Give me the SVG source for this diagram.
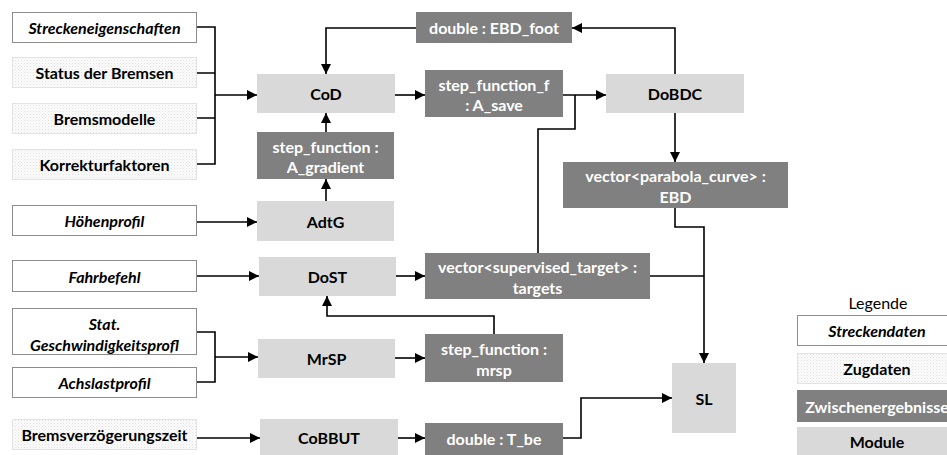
<svg xmlns="http://www.w3.org/2000/svg" width="947" height="455" viewBox="0 0 947 455">
<defs>
<pattern id="dots" width="3" height="3" patternUnits="userSpaceOnUse">
<rect width="3" height="3" fill="#fbfbfb"/>
<rect x="0" y="0" width="1" height="1" fill="#e2e2e2"/>
<rect x="1.5" y="1.5" width="1" height="1" fill="#ececec"/>
</pattern>
<marker id="ah" viewBox="0 0 10 10" refX="10" refY="5" markerWidth="10" markerHeight="10" markerUnits="userSpaceOnUse" orient="auto">
<path d="M0,0 L10,5 L0,10 Z" fill="#000"/>
</marker>
</defs>
<style>
text{font-family:Lato,"Open Sans","Liberation Sans",sans-serif;font-weight:bold;font-size:16px;text-anchor:middle;dominant-baseline:central}
.sd rect{fill:#fff;stroke:#8c8c8c;stroke-width:1}
.sd text{font-style:italic;fill:#000}
.zd rect{fill:url(#dots);stroke:#e3e3e3;stroke-width:1}
.zd text{fill:#000}
.mo rect{fill:#d9d9d9}
.mo text{fill:#000}
.zw rect{fill:#808080}
.zw text{fill:#fff}
.c path{fill:none;stroke:#000;stroke-width:1.6}
.lg{font-weight:normal;fill:#000}
</style>

<g id="streckeneigenschaften" class="sd"><rect x="12.5" y="12.5" width="184" height="30"/><text x="104.5" y="27.5">Streckeneigenschaften</text></g>
<g id="status-bremsen" class="zd"><rect x="12.5" y="57.5" width="184" height="30"/><text x="104.5" y="72.5">Status der Bremsen</text></g>
<g id="bremsmodelle" class="zd"><rect x="12.5" y="103.5" width="184" height="30"/><text x="104.5" y="118.5">Bremsmodelle</text></g>
<g id="korrekturfaktoren" class="zd"><rect x="12.5" y="149.5" width="184" height="30"/><text x="104.5" y="164.5">Korrekturfaktoren</text></g>
<g id="hoehenprofil" class="sd"><rect x="12.5" y="205.5" width="184" height="30"/><text x="104.5" y="220.5">Höhenprofil</text></g>
<g id="fahrbefehl" class="sd"><rect x="12.5" y="260.5" width="184" height="31"/><text x="104.5" y="276">Fahrbefehl</text></g>
<g id="stat-geschw" class="sd"><rect x="12.5" y="308.5" width="184" height="46"/><text x="104.5" y="323">Stat.</text><text x="104.5" y="344">Geschwindigkeitsprofl</text></g>
<g id="achslastprofil" class="sd"><rect x="12.5" y="367.5" width="184" height="30"/><text x="104.5" y="382.5">Achslastprofil</text></g>
<g id="bremsverzoegerungszeit" class="zd"><rect x="12.5" y="419.5" width="184" height="30"/><text x="104.5" y="434.5">Bremsverzögerungszeit</text></g>

<g id="CoD" class="mo"><rect x="257" y="74" width="138" height="39"/><text x="326" y="93.5">CoD</text></g>
<g id="A_gradient" class="zw"><rect x="257" y="132" width="137" height="47"/><text x="325.5" y="146">step_function :</text><text x="325.5" y="166">A_gradient</text></g>
<g id="AdtG" class="mo"><rect x="257" y="201" width="137" height="40"/><text x="325.5" y="221">AdtG</text></g>
<g id="DoST" class="mo"><rect x="259" y="257" width="137" height="39"/><text x="327.5" y="276.5">DoST</text></g>
<g id="MrSP" class="mo"><rect x="258" y="339" width="137" height="39"/><text x="326.5" y="358.5">MrSP</text></g>
<g id="CoBBUT" class="mo"><rect x="260" y="419" width="138" height="36"/><text x="329" y="437.5">CoBBUT</text></g>

<g id="EBD_foot" class="zw"><rect x="416" y="12" width="156" height="31"/><text x="494" y="27.5">double : EBD_foot</text></g>
<g id="A_save" class="zw"><rect x="425" y="70" width="138" height="47"/><text x="494" y="84">step_function_f</text><text x="494" y="104">: A_save</text></g>
<g id="targets" class="zw"><rect x="425" y="253" width="225" height="46"/><text x="537.5" y="266">vector&lt;supervised_target&gt; :</text><text x="537.5" y="287">targets</text></g>
<g id="mrsp" class="zw"><rect x="425" y="334" width="138" height="48"/><text x="494" y="348">step_function :</text><text x="494" y="369">mrsp</text></g>
<g id="T_be" class="zw"><rect x="425" y="423" width="138" height="32"/><text x="494" y="438.5">double : T_be</text></g>
<g id="DoBDC" class="mo"><rect x="606" y="74" width="138" height="39"/><text x="675" y="93.5">DoBDC</text></g>
<g id="EBD" class="zw"><rect x="563" y="162" width="225" height="46"/><text x="675.5" y="175">vector&lt;parabola_curve&gt; :</text><text x="675.5" y="196">EBD</text></g>
<g id="SL" class="mo"><rect x="672" y="363" width="64" height="70"/><text x="704" y="398">SL</text></g>

<g id="legende">
<text class="lg" x="878" y="302">Legende</text>
<g class="sd"><rect x="797.5" y="315.5" width="160" height="30"/><text x="877" y="330.5">Streckendaten</text></g>
<g class="zd"><rect x="797.5" y="353.5" width="160" height="30"/><text x="877" y="368.5">Zugdaten</text></g>
<g class="zw"><rect x="797" y="390" width="160" height="32"/><text x="877" y="406">Zwischenergebnisse</text></g>
<g class="mo"><rect x="797" y="427" width="160" height="28"/><text x="877" y="441">Module</text></g>
</g>

<g id="connectors" class="c">
<path d="M197,27 H215 V164 H197 M197,73 H215 M197,118 H215"/>
<path d="M215,95 H257" marker-end="url(#ah)"/>
<path d="M197,222 H257" marker-end="url(#ah)"/>
<path d="M197,276 H259" marker-end="url(#ah)"/>
<path d="M197,332 H215 V382 H197"/>
<path d="M215,357 H258" marker-end="url(#ah)"/>
<path d="M197,438 H260" marker-end="url(#ah)"/>
<path d="M326,132 V113" marker-end="url(#ah)"/>
<path d="M326,201 V179" marker-end="url(#ah)"/>
<path d="M395,95 H425" marker-end="url(#ah)"/>
<path d="M563,95 H606" marker-end="url(#ah)"/>
<path d="M538,253 V129 H575 V95"/>
<path d="M675,74 V28 H572" marker-end="url(#ah)"/>
<path d="M416,28 H326 V74" marker-end="url(#ah)"/>
<path d="M675,113 V162" marker-end="url(#ah)"/>
<path d="M675,208 V227 H704 V363" marker-end="url(#ah)"/>
<path d="M650,276 H704"/>
<path d="M563,438 H581 V398 H672" marker-end="url(#ah)"/>
<path d="M395,358 H425" marker-end="url(#ah)"/>
<path d="M494,334 V316 H327 V296" marker-end="url(#ah)"/>
<path d="M396,276 H425" marker-end="url(#ah)"/>
<path d="M398,438 H425" marker-end="url(#ah)"/>
</g>
</svg>
